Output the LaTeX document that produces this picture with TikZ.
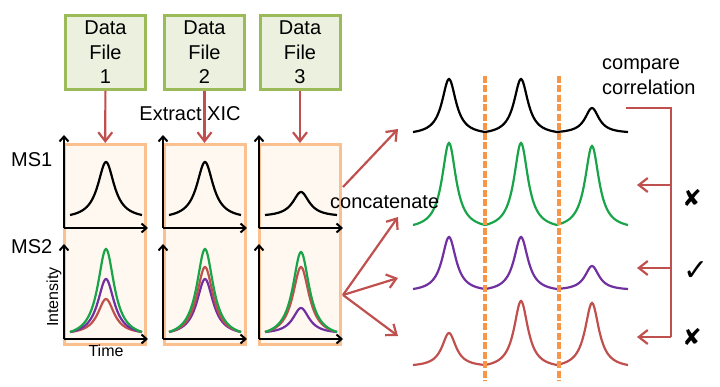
\documentclass[tikz,border=0pt]{standalone}
\usepackage{fontspec}
\setmainfont{Liberation Sans}
\newfontfamily\symfont{DejaVu Sans}
\usetikzlibrary{arrows.meta,positioning}
\definecolor{ink}{HTML}{000000}
\definecolor{filegreen}{HTML}{9BBB59}
\definecolor{filebg}{HTML}{EBF1DE}
\definecolor{panelline}{HTML}{FAC090}
\definecolor{panelbg}{HTML}{FEF8F0}
\definecolor{arrred}{HTML}{C0504D}
\definecolor{tgreen}{HTML}{1AA44A}
\definecolor{tpurple}{HTML}{7030A0}
\definecolor{cutorange}{HTML}{F79646}
\tikzset{
  every node/.style={font=\fontsize{20}{24.5}\selectfont, text=ink},
  filebox/.style={draw=filegreen, line width=3pt, fill=filebg, minimum width=80pt,
                  minimum height=74pt, align=center, inner sep=0pt},
  xicpanel/.style={draw=panelline, line width=3pt, fill=panelbg, minimum width=81pt,
                   minimum height=200pt, inner sep=0pt},
  arr/.style={-{Straight Barb[length=9pt, width=14pt]}, line width=2.2pt, draw=arrred},
  redline/.style={line width=2.8pt, draw=arrred},
  axis/.style={-{Straight Barb[length=5pt, width=9pt]}, line width=2pt, draw=ink},
  trace/.style={line width=2.2pt},
  cutline/.style={line width=3.4pt, draw=cutorange, dash pattern=on 7pt off 2.5pt},
  lbl/.style={font=\fontsize{20}{24.5}\selectfont, inner sep=0pt},
  small/.style={font=\fontsize{16}{19}\selectfont, inner sep=0pt},
  verdict/.style={font=\symfont\fontsize{23}{24}\selectfont, inner sep=0pt},
}
% one peak, centre #1, baseline #2, height #3, width #4
\newcommand{\peakpath}[4]{plot[domain=-36:36, samples=73, smooth]
  ({#1+\x}, {#2-#3*(lor(\x,#4)-lor(36,#4))/(1-lor(36,#4))})}

\begin{document}
\begin{tikzpicture}[x=1pt, y=-1pt,
  declare function={lor(\t,\g)=1/(1+(\t/\g)^2);}]
\useasboundingbox (0,0) rectangle (720,387);

% --- data files ---
\node[filebox] (file1) at (105.5,52.5) {Data\\File\\1};
\node[filebox] (file2) at (204.5,52.5) {Data\\File\\2};
\node[filebox] (file3) at (300,52.5) {Data\\File\\3};

% --- xic panels ---
\node[xicpanel] (panel1) at (105,244.5) {};
\node[xicpanel] (panel2) at (204.5,244.5) {};
\node[xicpanel] (panel3) at (300,244.5) {};

\draw[arr] (file1) -- (panel1);
\draw[arr] (file2) -- (panel2);
\draw[arr] (file3) -- (panel3);

\node[lbl] (extract) at (190,114) {Extract XIC};
\node[lbl, anchor=west] (ms1) at (11,160) {MS1};
\node[lbl, anchor=west] (ms2) at (11,247) {MS2};
\node[small, rotate=90] (intens) at (54,297) {Intensity};
\node[small] (time) at (106,351) {Time};

% --- axes ---
\foreach \ax in {64,163,259} {
  \draw[axis] (\ax,228) -- (\ax,135);
  \draw[axis] (\ax,228) -- (\ax+84,228);
  \draw[axis] (\ax,339) -- (\ax,244);
  \draw[axis] (\ax,339) -- (\ax+84,339);
}

% --- MS1 peaks ---
\draw[trace, ink] \peakpath{106}{215}{53}{10};
\draw[trace, ink] \peakpath{205}{215}{53}{10};
\draw[trace, ink] \peakpath{301}{215}{23}{10};

% --- MS2 peaks ---
\draw[trace, arrred] \peakpath{106}{332}{33}{10};
\draw[trace, tpurple] \peakpath{106}{332}{53}{10};
\draw[trace, tgreen] \peakpath{106}{332}{83}{10};
\draw[trace, tpurple] \peakpath{205}{332}{53}{10};
\draw[trace, arrred] \peakpath{205}{332}{65}{10};
\draw[trace, tgreen] \peakpath{205}{332}{83}{10};
\draw[trace, tpurple] \peakpath{301}{332}{24}{10};
\draw[trace, arrred] \peakpath{301}{332}{65}{10};
\draw[trace, tgreen] \peakpath{301}{332}{80}{10};

% --- concatenated traces ---
\draw[trace, ink] \peakpath{449}{132}{53}{8.5} \peakpath{521}{132}{53}{8.5} \peakpath{592}{132}{24}{8.5};
\draw[trace, tgreen] \peakpath{449}{225}{82}{8.5} \peakpath{521}{225}{82}{8.5} \peakpath{592}{225}{79}{8.5};
\draw[trace, tpurple] \peakpath{449}{289}{52}{8.5} \peakpath{521}{289}{52}{8.5} \peakpath{592}{289}{23}{8.5};
\draw[trace, arrred] \peakpath{449}{365}{32}{8.5} \peakpath{521}{365}{64}{8.5} \peakpath{592}{365}{62}{8.5};

\draw[cutline] (485,76) -- (485,381);
\draw[cutline] (559,76) -- (559,381);

% --- concatenate arrows ---
\coordinate (ms1out) at (343,187);
\coordinate (ms2out) at (343,295);
\coordinate (in1) at (398,129);
\coordinate (in2) at (398,217);
\coordinate (in3) at (398,278);
\coordinate (in4) at (398,336);
\node[lbl, anchor=west] (concat) at (330,202) {concatenate};
\draw[arr] (ms1out) -- (in1);
\draw[arr] (ms2out) -- (in2);
\draw[arr] (ms2out) -- (in3);
\draw[arr] (ms2out) -- (in4);

% --- compare correlation ---
\node[lbl, anchor=north west, align=left] (compare) at (602,59) {compare\\correlation};
\coordinate (brtop) at (626,108);
\coordinate (brfoot) at (671,337);
\coordinate (b1) at (671,185);
\coordinate (b2) at (671,268);
\coordinate (t1) at (637,185);
\coordinate (t2) at (637,268);
\coordinate (t3) at (637,337);
\draw[redline] (brtop) -| (brfoot);
\draw[arr] (b1) -- (t1);
\draw[arr] (b2) -- (t2);
\draw[arr] (brfoot) -- (t3);

\node[verdict] (no1) at (692,198) {✘};
\node[verdict, font=\symfont\fontsize{30}{32}\selectfont] (yes) at (696,271) {✓};
\node[verdict] (no2) at (692,337) {✘};

\end{tikzpicture}
\end{document}
